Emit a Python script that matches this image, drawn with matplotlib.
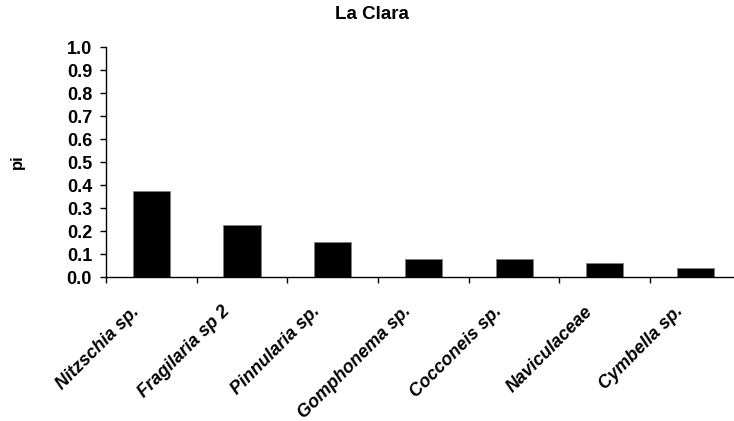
import matplotlib
matplotlib.use("Agg")
import matplotlib.pyplot as plt
import matplotlib.transforms as mtransforms
import numpy as np

plt.rcParams['font.family'] = ['Liberation Sans', 'DejaVu Sans']

# data
taxa = ["Nitzschia sp.", "Fragilaria sp 2", "Pinnularia sp.", "Gomphonema sp.",
        "Cocconeis sp.", "Naviculaceae", "Cymbella sp."]
pi = [0.375, 0.225, 0.151, 0.078, 0.078, 0.062, 0.041]
yticks = [0.0, 0.1, 0.2, 0.3, 0.4, 0.5, 0.6, 0.7, 0.8, 0.9, 1.0]

fig = plt.figure(figsize=(7.34, 4.21), dpi=100)
ax = fig.add_axes([0.1444, 0.342, 0.865, 0.546])

x = np.arange(len(taxa))
ax.bar(x, pi, width=0.41, color='black', edgecolor='#808080', linewidth=0.6)

ax.set_xlim(-0.5, len(taxa) - 0.5)
ax.set_ylim(0, 1.0)
ax.set_yticks(yticks)
ax.set_yticklabels([f"{v:.1f}" for v in yticks], fontsize=13, fontweight='bold')

# ticks on category boundaries, labels at centres
ax.set_xticks(np.arange(len(taxa) + 1) - 0.5)
ax.set_xticklabels([])
ax.set_xticks(x, minor=True)
ax.set_xticklabels(taxa, minor=True, rotation=45, ha='right', rotation_mode='anchor',
                   fontsize=13, fontweight='bold', fontstyle='italic')
ax.tick_params(axis='x', which='minor', length=0, pad=10)
ax.tick_params(axis='x', which='major', length=4, width=1, direction='out')
ax.tick_params(axis='y', length=4, width=1, direction='out', pad=6)

shift = mtransforms.ScaledTranslation(-21 / 100, -12 / 100, fig.dpi_scale_trans)
for lbl in ax.get_xticklabels(minor=True):
    lbl.set_transform(lbl.get_transform() + shift)

for s in ['top', 'right']:
    ax.spines[s].set_visible(False)
for s in ['left', 'bottom']:
    ax.spines[s].set_linewidth(1)

ax.set_ylabel("pi", fontsize=12, fontweight='bold')
ax.yaxis.set_label_coords(-0.128, 0.5)
fig.text(0.507, 0.965, "La Clara", ha='center', va='center', fontsize=13.5, fontweight='bold')

fig.savefig("out.png", dpi=100)
